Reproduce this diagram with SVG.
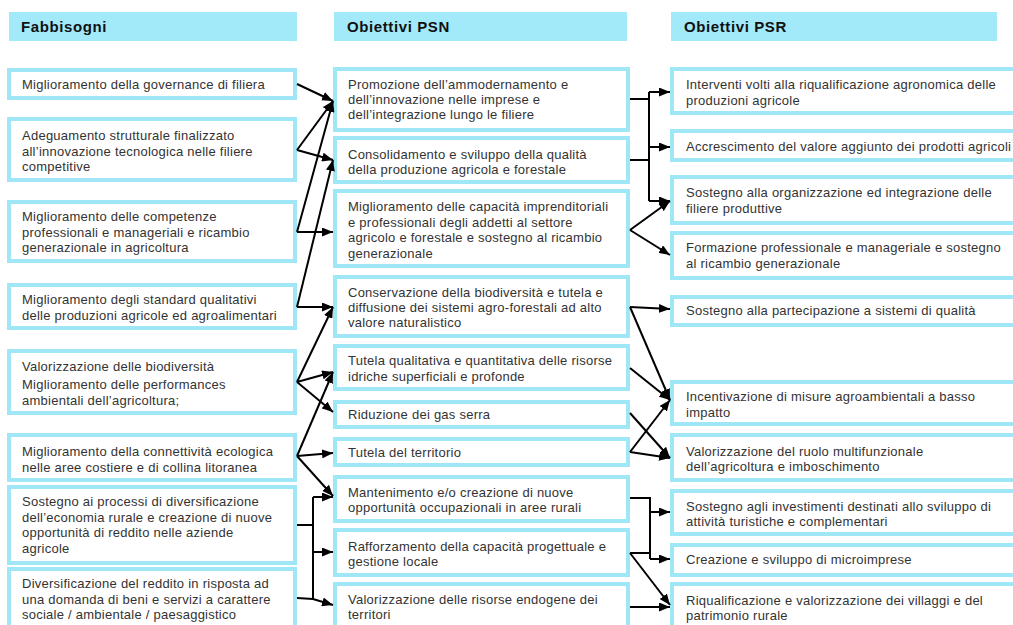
<svg xmlns="http://www.w3.org/2000/svg" width="1013" height="625" viewBox="0 0 1013 625">
<style>
.hdr{fill:#a2eafa;stroke:none}
.ht{font-family:"Liberation Sans",Arial,sans-serif;font-size:15px;font-weight:bold;fill:#111;letter-spacing:0.6px}
.box{fill:#fff;stroke:#9fe6f7;stroke-width:4}
.t{font-family:"Liberation Sans",Arial,sans-serif;font-size:13px;fill:#333;letter-spacing:0.25px}
.c{fill:none;stroke:#000;stroke-width:2}
.a{fill:none;stroke:#000;stroke-width:2;marker-end:url(#ah)}
</style>
<defs>
<marker id="ah" markerUnits="userSpaceOnUse" markerWidth="11" markerHeight="9" refX="11" refY="4.5" orient="auto">
<path d="M0,0 L11,4.5 L0,9 z" fill="#000"/>
</marker>
</defs>
<rect width="1013" height="625" fill="#fff"/>
<g id="headers">
<g id="h-fabbisogni"><rect class="hdr" x="9" y="12" width="288" height="29"/><text class="ht" x="21" y="32">Fabbisogni</text></g>
<g id="h-psn"><rect class="hdr" x="334" y="12" width="293" height="29"/><text class="ht" x="347" y="32">Obiettivi PSN</text></g>
<g id="h-psr"><rect class="hdr" x="671" y="12" width="326" height="29"/><text class="ht" x="684" y="32">Obiettivi PSR</text></g>
</g>
<g id="fabbisogni">
<g id="L1"><rect class="box" x="9" y="70" width="286" height="28"/><text class="t" x="22" y="89">Miglioramento della governance di filiera</text></g>
<g id="L2"><rect class="box" x="9" y="119" width="286" height="61"/><text class="t" x="22" y="140">Adeguamento strutturale finalizzato</text><text class="t" x="22" y="155.5">all’innovazione tecnologica nelle filiere</text><text class="t" x="22" y="171">competitive</text></g>
<g id="L3"><rect class="box" x="9" y="202" width="286" height="59"/><text class="t" x="22" y="221">Miglioramento delle competenze</text><text class="t" x="22" y="236.5">professionali e manageriali e ricambio</text><text class="t" x="22" y="252">generazionale in agricoltura</text></g>
<g id="L4"><rect class="box" x="9" y="285" width="286" height="43"/><text class="t" x="22" y="304">Miglioramento degli standard qualitativi</text><text class="t" x="22" y="319.5">delle produzioni agricole ed agroalimentari</text></g>
<g id="L5"><rect class="box" x="9" y="351" width="286" height="62"/><text class="t" x="22" y="371">Valorizzazione delle biodiversità</text><text class="t" x="22" y="389">Miglioramento delle performances</text><text class="t" x="22" y="404.5">ambientali dell’agricoltura;</text></g>
<g id="L6"><rect class="box" x="9" y="435" width="286" height="45"/><text class="t" x="22" y="456">Miglioramento della connettività ecologica</text><text class="t" x="22" y="471.5">nelle aree costiere e di collina litoranea</text></g>
<g id="L7"><rect class="box" x="9" y="487" width="286" height="76"/><text class="t" x="22" y="506">Sostegno ai processi di diversificazione</text><text class="t" x="22" y="521.5">dell’economia rurale e creazione di nuove</text><text class="t" x="22" y="537">opportunità di reddito nelle aziende</text><text class="t" x="22" y="552.5">agricole</text></g>
<g id="L8"><rect class="box" x="9" y="569" width="286" height="62"/><text class="t" x="22" y="588">Diversificazione del reddito in risposta ad</text><text class="t" x="22" y="603.5">una domanda di beni e servizi a carattere</text><text class="t" x="22" y="619">sociale / ambientale / paesaggistico</text></g>
</g>
<g id="psn">
<g id="M1"><rect class="box" x="335" y="69" width="293" height="61"/><text class="t" x="348" y="89">Promozione dell’ammodernamento e</text><text class="t" x="348" y="104">dell’innovazione nelle imprese e</text><text class="t" x="348" y="119">dell’integrazione lungo le filiere</text></g>
<g id="M2"><rect class="box" x="335" y="138" width="293" height="44"/><text class="t" x="348" y="159">Consolidamento e sviluppo della qualità</text><text class="t" x="348" y="173.5">della produzione agricola e forestale</text></g>
<g id="M3"><rect class="box" x="335" y="191" width="293" height="75"/><text class="t" x="348" y="211">Miglioramento delle capacità imprenditoriali</text><text class="t" x="348" y="226.5">e professionali degli addetti al settore</text><text class="t" x="348" y="242">agricolo e forestale e sostegno al ricambio</text><text class="t" x="348" y="257.5">generazionale</text></g>
<g id="M4"><rect class="box" x="335" y="277" width="293" height="59"/><text class="t" x="348" y="297">Conservazione della biodiversità e tutela e</text><text class="t" x="348" y="312">diffusione dei sistemi agro-forestali ad alto</text><text class="t" x="348" y="327">valore naturalistico</text></g>
<g id="M5"><rect class="box" x="335" y="346" width="293" height="43"/><text class="t" x="348" y="365">Tutela qualitativa e quantitativa delle risorse</text><text class="t" x="348" y="381">idriche superficiali e profonde</text></g>
<g id="M6"><rect class="box" x="335" y="402" width="293" height="25"/><text class="t" x="348" y="419">Riduzione dei gas serra</text></g>
<g id="M7"><rect class="box" x="335" y="439" width="293" height="26"/><text class="t" x="348" y="457">Tutela del territorio</text></g>
<g id="M8"><rect class="box" x="335" y="477" width="293" height="44"/><text class="t" x="348" y="497">Mantenimento e/o creazione di nuove</text><text class="t" x="348" y="512">opportunità occupazionali in aree rurali</text></g>
<g id="M9"><rect class="box" x="335" y="530" width="293" height="45"/><text class="t" x="348" y="551">Rafforzamento della capacità progettuale e</text><text class="t" x="348" y="565.5">gestione locale</text></g>
<g id="M10"><rect class="box" x="335" y="584" width="293" height="50"/><text class="t" x="348" y="604">Valorizzazione delle risorse endogene dei</text><text class="t" x="348" y="618.5">territori</text></g>
</g>
<g id="psr">
<g id="R1"><rect class="box" x="672" y="69" width="350" height="44"/><text class="t" x="686" y="89">Interventi volti alla riqualificazione agronomica delle</text><text class="t" x="686" y="105">produzioni agricole</text></g>
<g id="R2"><rect class="box" x="672" y="131" width="350" height="29"/><text class="t" x="686" y="151">Accrescimento del valore aggiunto dei prodotti agricoli</text></g>
<g id="R3"><rect class="box" x="672" y="177" width="350" height="46"/><text class="t" x="686" y="197">Sostegno alla organizzazione ed integrazione delle</text><text class="t" x="686" y="212.5">filiere produttive</text></g>
<g id="R4"><rect class="box" x="672" y="233" width="350" height="45"/><text class="t" x="686" y="252">Formazione professionale e manageriale e sostegno</text><text class="t" x="686" y="267.5">al ricambio generazionale</text></g>
<g id="R5"><rect class="box" x="672" y="297" width="350" height="28"/><text class="t" x="686" y="315">Sostegno alla partecipazione a sistemi di qualità</text></g>
<g id="R6"><rect class="box" x="672" y="382" width="350" height="42"/><text class="t" x="686" y="401">Incentivazione di misure agroambientali a basso</text><text class="t" x="686" y="417">impatto</text></g>
<g id="R7"><rect class="box" x="672" y="435" width="350" height="45"/><text class="t" x="686" y="456">Valorizzazione del ruolo multifunzionale</text><text class="t" x="686" y="470.5">dell’agricoltura e imboschimento</text></g>
<g id="R8"><rect class="box" x="672" y="491" width="350" height="43"/><text class="t" x="686" y="511">Sostegno agli investimenti destinati allo sviluppo di</text><text class="t" x="686" y="526">attività turistiche e complementari</text></g>
<g id="R9"><rect class="box" x="672" y="545" width="350" height="30"/><text class="t" x="686" y="564">Creazione e sviluppo di microimprese</text></g>
<g id="R10"><rect class="box" x="672" y="584" width="350" height="50"/><text class="t" x="686" y="605">Riqualificazione e valorizzazione dei villaggi e del</text><text class="t" x="686" y="619.5">patrimonio rurale</text></g>
</g>
<g id="connectors">
<path class="a" d="M297,84 L333,101"/>
<path class="a" d="M297,150 L333,101"/>
<path class="a" d="M297,150 L333,160"/>
<path class="a" d="M297,232 L333,232"/>
<path class="a" d="M297,232 L333,101"/>
<path class="a" d="M297,307 L333,307"/>
<path class="a" d="M297,307 L333,160"/>
<path class="a" d="M297,382 L333,307"/>
<path class="a" d="M297,382 L333,372"/>
<path class="a" d="M297,382 L333,412"/>
<path class="a" d="M297,456 L333,372"/>
<path class="a" d="M297,456 L333,453"/>
<path class="a" d="M297,456 L333,496"/>
<path class="c" d="M297,525 L313,525 M313,497 L313,599"/>
<path class="a" d="M313,497 L333,497"/>
<path class="a" d="M313,552 L333,552"/>
<path class="a" d="M297,598 L313,599 L333,605"/>
<path class="c" d="M630,99 L649,99 M649,92 L649,201 M630,160 L649,160"/>
<path class="a" d="M649,92 L670,92"/>
<path class="a" d="M649,147 L670,147"/>
<path class="a" d="M649,201 L670,201"/>
<path class="a" d="M630,230 L670,201"/>
<path class="a" d="M630,230 L670,255"/>
<path class="a" d="M630,307 L670,309"/>
<path class="a" d="M630,307 L670,400"/>
<path class="a" d="M630,368 L670,400"/>
<path class="a" d="M630,413 L670,458"/>
<path class="a" d="M630,452 L670,400"/>
<path class="a" d="M630,452 L670,458"/>
<path class="c" d="M630,498 L650,498 L650,559 M630,553 L650,553"/>
<path class="a" d="M650,512 L670,512"/>
<path class="a" d="M650,559 L670,559"/>
<path class="a" d="M630,553 L670,605"/>
<path class="a" d="M630,607 L670,607"/>
</g>
</svg>
